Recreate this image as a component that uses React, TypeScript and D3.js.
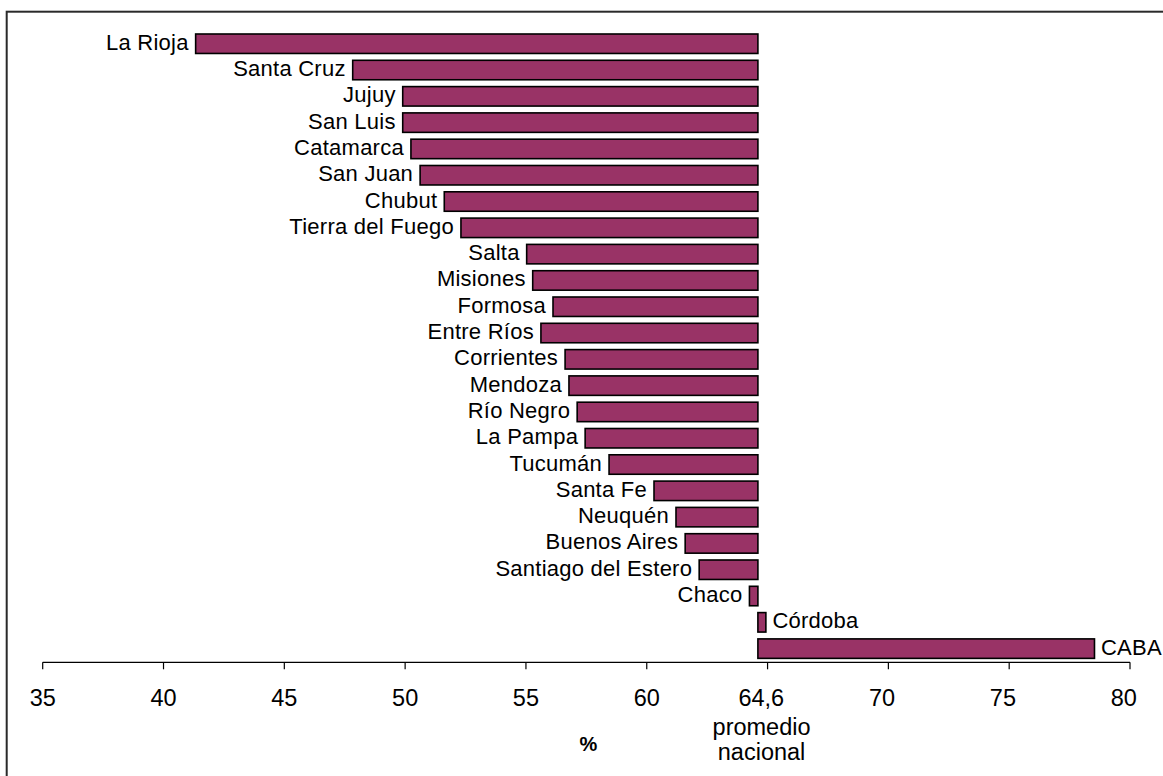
import React from "react";
import * as d3 from "d3";

const provinces = [
  "La Rioja", "Santa Cruz", "Jujuy", "San Luis", "Catamarca", "San Juan",
  "Chubut", "Tierra del Fuego", "Salta", "Misiones", "Formosa", "Entre Ríos",
  "Corrientes", "Mendoza", "Río Negro", "La Pampa", "Tucumán", "Santa Fe",
  "Neuquén", "Buenos Aires", "Santiago del Estero", "Chaco", "Córdoba", "CABA",
];
const values = [
  41.33, 47.83, 49.9, 49.9, 50.24, 50.62,
  51.62, 52.31, 55.03, 55.28, 56.12, 55.62,
  56.62, 56.78, 57.12, 57.45, 58.44, 60.3,
  61.21, 61.59, 62.17, 64.25, 64.93, 78.53,
];
const nationalAverage = 64.6;
const tickValues = [35, 40, 45, 50, 55, 60, 65, 70, 75, 80];
const tickLabels = ["35", "40", "45", "50", "55", "60", "64,6", "70", "75", "80"];
const axisTitle = "%";
const averageLabel = ["promedio", "nacional"];

const W = 1163;
const H = 776;
const FONT = "'Liberation Sans', Arial, Helvetica, sans-serif";

export default function App() {
  const x = d3.scaleLinear().domain([35, 80]).range([42.7, 1130]);
  const step = 26.3;
  const y = d3
    .scaleBand<string>()
    .domain(provinces)
    .range([34 - 0.13 * step, 34 - 0.13 * step + provinces.length * step])
    .paddingInner(0.26)
    .paddingOuter(0.13);
  const axisY = 662.3;
  const x0 = x(nationalAverage);

  return (
    <svg
      width={W}
      height={H}
      style={{ position: "absolute", left: 0, top: 0, background: "#fff" }}
      fontFamily={FONT}
    >
      <rect x={0} y={0} width={W} height={H} fill="#fff" />
      {/* frame */}
      <rect x={6.7} y={11.7} width={W + 20} height={H + 20} fill="none" stroke="#2a2a2a" strokeWidth={2} />

      {provinces.map((p, i) => {
        const v = values[i];
        const left = Math.min(x(v), x0);
        const right = Math.max(x(v), x0);
        const yy = y(p)!;
        const bh = y.bandwidth();
        const cy = yy + bh / 2;
        const below = v < nationalAverage;
        return (
          <g key={p}>
            <rect
              x={left}
              y={yy}
              width={right - left}
              height={bh}
              fill="#993366"
              stroke="#000"
              strokeWidth={1.6}
            />
            <text
              x={below ? left - 7 : right + 6.5}
              y={cy + 6}
              textAnchor={below ? "end" : "start"}
              fontSize={22}
              letterSpacing={0.25}
              fill="#000"
            >
              {p}
            </text>
          </g>
        );
      })}

      {/* axis */}
      <line x1={x(35)} x2={x(80)} y1={axisY} y2={axisY} stroke="#000" strokeWidth={1.2} />
      {tickValues.map((t, i) => (
        <g key={t}>
          <line x1={x(t)} x2={x(t)} y1={axisY} y2={axisY + 7} stroke="#000" strokeWidth={1.2} />
          <text
            x={x(t) + (t >= 65 ? -6.3 : 0)}
            y={705.5}
            textAnchor="middle"
            fontSize={23.5}
            fill="#000"
          >
            {tickLabels[i]}
          </text>
        </g>
      ))}
      <text x={x(65) - 6} y={735} textAnchor="middle" fontSize={23.5} fill="#000">
        {averageLabel[0]}
      </text>
      <text x={x(65) - 6} y={760} textAnchor="middle" fontSize={23.5} fill="#000">
        {averageLabel[1]}
      </text>
      <text x={588.3} y={751} textAnchor="middle" fontSize={20} fontWeight="bold" fill="#000">
        {axisTitle}
      </text>
    </svg>
  );
}
